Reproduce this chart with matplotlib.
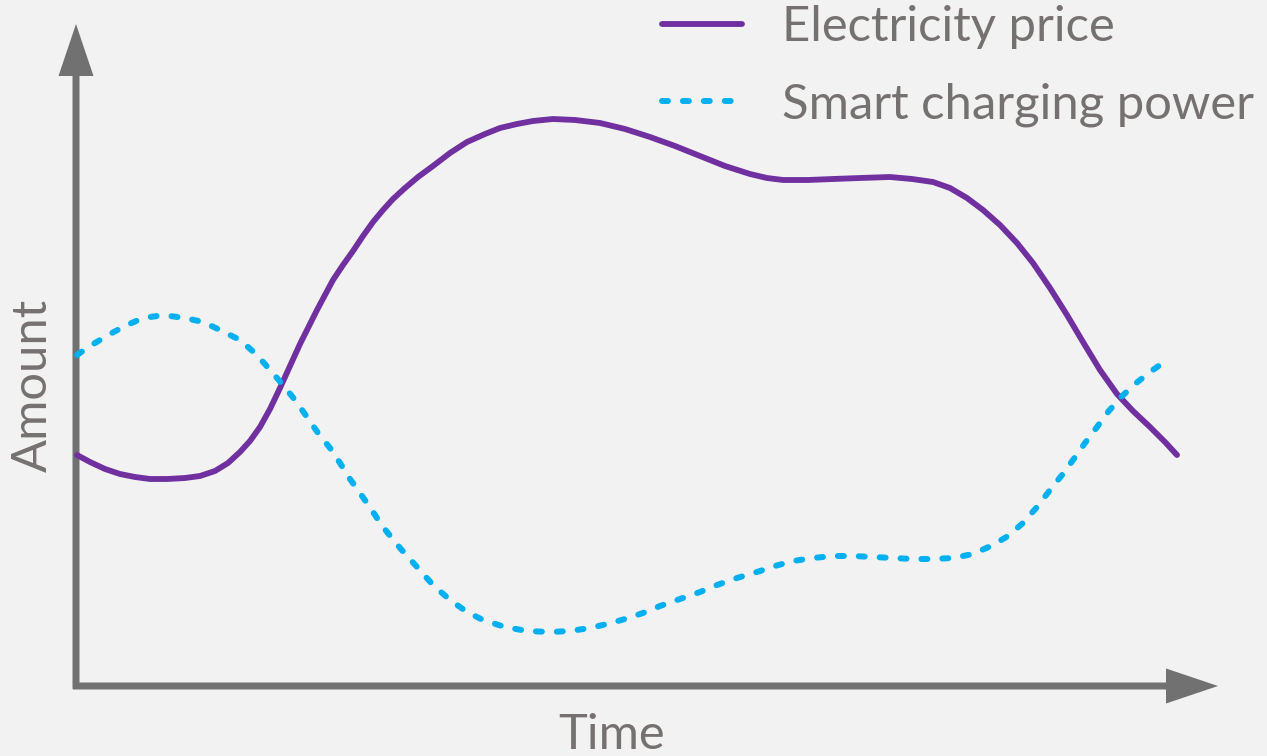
import matplotlib
matplotlib.use("Agg")
import matplotlib.pyplot as plt
from matplotlib.font_manager import FontProperties
from matplotlib.textpath import TextPath

# Time axis (arbitrary units) and values
price_t = [1, 14, 29, 44, 59, 74, 91, 109, 124, 139, 152, 164, 174, 184, 194, 204,
           214, 224, 234, 241, 249, 257, 267, 277, 287, 297, 307, 317, 329, 342, 357,
           374, 391, 409, 424, 441, 457, 477, 499, 524, 549, 574, 599, 624, 649, 674,
           691, 707, 732, 757, 784, 814, 836, 857, 874, 891, 907, 924, 941, 957, 974,
           991, 1007, 1024, 1041, 1057, 1074, 1089, 1101]
price_v = [231, 224, 217, 212, 209, 207, 207, 208, 210, 215, 223, 234, 245, 259, 277, 298,
           320, 342, 362, 376, 391, 406, 421, 435, 450, 464, 476, 487, 498, 509, 520,
           533, 544, 552, 558, 562, 565, 567, 566, 563, 557, 549, 540, 530, 520, 512,
           508, 506, 506, 507, 508, 509, 507, 504, 498, 488, 476, 461, 443, 423, 398,
           371, 344, 316, 292, 275, 259, 244, 231]

power_t = [1, 14, 34, 51, 67, 81, 94, 109, 127, 144, 164, 181, 194, 207, 219, 231,
           242, 254, 264, 274, 291, 307, 324, 341, 357, 374, 391, 407, 429, 451, 474,
           494, 514, 531, 549, 567, 584, 604, 624, 641, 661, 681, 699, 717, 737, 757,
           777, 797, 817, 837, 857, 877, 897, 917, 932, 947, 961, 974, 986, 997, 1009,
           1021, 1032, 1044, 1059, 1074, 1091]
power_v = [331, 340, 352, 361, 368, 370, 370, 368, 364, 356, 346, 331, 316, 301, 286, 269,
           253, 238, 223, 207, 183, 159, 138, 119, 101, 86, 74, 66, 59, 55, 54,
           55, 58, 62, 67, 73, 80, 87, 94, 101, 108, 114, 120, 125, 128, 130,
           130, 129, 128, 127, 127, 128, 132, 141, 150, 163, 179, 196, 211, 226, 243,
           259, 274, 288, 302, 314, 326]

series_labels = ["Electricity price", "Smart charging power"]
x_label = "Time"
y_label = "Amount"

BG = "#f2f2f2"
AXC = "#717171"
TXT = "#767171"
PURPLE = "#7030a0"
BLUE = "#00b0f0"
FONT = ["Lato", "DejaVu Sans"]
DPI = 100


def fit_size(text, target_px):
    """Font size (pt) giving the wanted rendered width in pixels."""
    fp = FontProperties(family=FONT, size=100)
    w = TextPath((0, 0), text, prop=fp).get_extents().width  # in points at 100pt
    w_px = w * DPI / 72.0
    return 100 * target_px / w_px


fig = plt.figure(figsize=(12.67, 7.56), dpi=DPI, facecolor=BG)
ax = fig.add_axes([0, 0, 1, 1])
ax.set_facecolor(BG)
ax.set_xlim(-76, 1191)
ax.set_ylim(-70, 686)
ax.axis("off")

ax.plot(price_t, price_v, color=PURPLE, lw=4.2, solid_capstyle="round",
        solid_joinstyle="round", label=series_labels[0], zorder=3)
ax.plot(power_t, power_v, color=BLUE, lw=4.3, dashes=(1.0, 2.5),
        dash_capstyle="round", label=series_labels[1], zorder=3)

# axis arrows
ax.arrow(0, -3, 0, 665, width=7, head_width=35, head_length=52,
         length_includes_head=True, color=AXC, lw=0, zorder=2)
ax.arrow(-3, 0, 1145, 0, width=7, head_width=35, head_length=52,
         length_includes_head=True, color=AXC, lw=0, zorder=2)

lab_fs = fit_size(x_label, 104)
ax.text(536, -49, x_label, ha="center", va="center", fontsize=lab_fs,
        color=TXT, family=FONT)
ax.text(-43, 301, y_label, ha="center", va="center", fontsize=lab_fs,
        color=TXT, family=FONT, rotation=90)

leg_fs = fit_size(series_labels[1], 470)
leg_px = leg_fs * DPI / 72.0
leg = ax.legend(loc="upper left", bbox_to_anchor=(662 / 1267, 1 - 5 / 756),
                bbox_transform=fig.transFigure, frameon=False,
                prop={"family": FONT, "size": leg_fs}, labelcolor=TXT,
                handlelength=80 / leg_px, handletextpad=40 / leg_px,
                labelspacing=0.45 + 11 / leg_px, borderaxespad=0.0, borderpad=0.0)

fig.savefig("out.png", dpi=DPI, facecolor=BG)
